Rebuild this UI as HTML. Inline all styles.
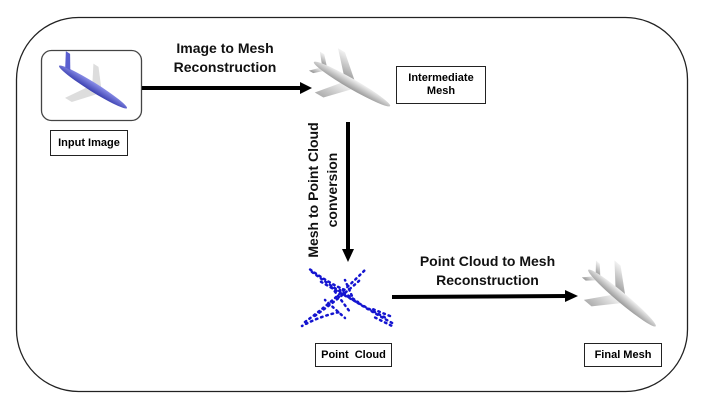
<!DOCTYPE html>
<html><head><meta charset="utf-8"><style>
html,body{margin:0;padding:0;background:#fff;}
body{width:703px;height:412px;position:relative;overflow:hidden;font-family:"Liberation Sans",Arial,sans-serif;}
.t{position:absolute;font-weight:bold;color:#111;text-align:center;white-space:nowrap;}
.lbl{position:absolute;border:1.5px solid #222;box-sizing:border-box;font-size:11px;font-weight:bold;display:flex;align-items:center;justify-content:center;text-align:center;line-height:13px;background:#fff;}
</style></head><body>
<svg width="703" height="412" style="position:absolute;left:0;top:0">
<defs>
<linearGradient id="g" x1="0" y1="0" x2="0" y2="1"><stop offset="0" stop-color="#f2f2f2"/><stop offset="1" stop-color="#9a9a9a"/></linearGradient>
<linearGradient id="b" x1="0" y1="0" x2="0" y2="1"><stop offset="0" stop-color="#8a8ee8"/><stop offset="1" stop-color="#3a3fb0"/></linearGradient>
<g id="plane">
 <polygon points="-10,-2 -30,-24 -22,-24 2,-3" fill="url(#g)"/>
 <polygon points="-8,2 -28,26 -18,26 4,3" fill="url(#g)" opacity=".8"/>
 <polygon points="-36,-2 -44,-12 -39,-12 -30,-2" fill="url(#g)"/>
 <polygon points="-36,2 -44,10 -39,10 -30,2" fill="url(#g)"/>
 <ellipse cx="0" cy="0" rx="44" ry="5" fill="url(#g)"/>
</g>
</defs>
<rect x="16.5" y="17.5" width="671" height="374" rx="62" fill="none" stroke="#222" stroke-width="1.3"/>
<rect x="41.5" y="50.5" width="100" height="70" rx="10" fill="#fff" stroke="#444" stroke-width="1.3"/>
<g transform="translate(93,87) rotate(32)">
 <polygon points="-4,2 -18,24 -10,24 8,3" fill="#ddd"/>
 <polygon points="-2,-2 -12,-20 -6,-20 8,-3" fill="#ddd"/>
 <ellipse cx="0" cy="0" rx="40" ry="4.5" fill="url(#b)"/>
 <polygon points="-34,-2 -42,-16 -37,-16 -28,-2" fill="#5a5fd0"/>
</g>
<line x1="142" y1="88" x2="302" y2="88" stroke="#000" stroke-width="4"/>
<polygon points="300,82 312,88 300,94" fill="#000"/>
<g transform="translate(352,84) rotate(30)"><use href="#plane"/></g>
<line x1="348" y1="122" x2="348" y2="250" stroke="#000" stroke-width="4"/>
<polygon points="342,249 348,262 354,249" fill="#000"/>
<g stroke="#1414d0" stroke-width="2.5" stroke-dasharray="1.5 4" stroke-linecap="round" fill="none">
 <path d="M312,272 Q350,300 394,324"/>
 <path d="M318,280 Q352,300 386,318" stroke-dashoffset="2"/>
 <path d="M308,268 Q330,284 345,290" stroke-dashoffset="3"/>
 <path d="M305,322 Q335,300 365,270"/>
 <path d="M312,318 Q340,298 360,280" stroke-dashoffset="2"/>
 <path d="M302,326 Q320,316 340,312" stroke-dashoffset="1"/>
 <path d="M330,285 L350,312" stroke-dashoffset="3"/>
 <path d="M340,290 L358,302 M345,280 L352,296 M325,300 L345,318" stroke-dashoffset="1"/>
 <path d="M370,308 L390,316 M372,316 L392,326" stroke-dashoffset="2"/>
</g>
<line x1="392" y1="297" x2="567" y2="296" stroke="#000" stroke-width="4"/>
<polygon points="565,290 578,296 565,302" fill="#000"/>
<g transform="translate(622,298) rotate(40)"><use href="#plane"/></g>
</svg>
<div class="t" style="left:150px;top:39px;width:150px;font-size:14px;line-height:19px">Image to Mesh<br>Reconstruction</div>
<div class="t" style="left:400px;top:252px;width:175px;font-size:14px;line-height:19px">Point Cloud to Mesh<br>Reconstruction</div>
<div class="t" style="left:248px;top:171px;width:150px;font-size:14px;line-height:19px;transform:rotate(-90deg);transform-origin:center">Mesh to Point Cloud<br>conversion</div>
<div class="lbl" style="left:50px;top:130px;width:78px;height:26px">Input Image</div>
<div class="lbl" style="left:396px;top:66px;width:90px;height:38px">Intermediate<br>Mesh</div>
<div class="lbl" style="left:315px;top:343px;width:77px;height:24px">Point &nbsp;Cloud</div>
<div class="lbl" style="left:584px;top:343px;width:78px;height:24px">Final Mesh</div>
</body></html>
